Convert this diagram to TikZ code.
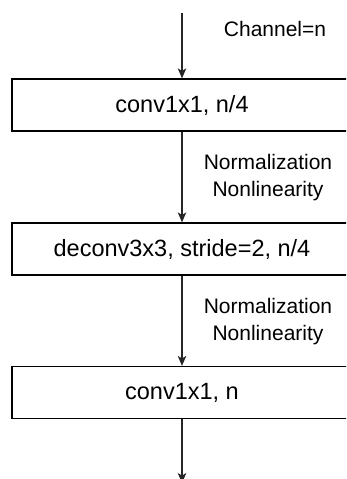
\documentclass[tikz,border=0pt]{standalone}
\usepackage{fontspec}
\setmainfont{Liberation Sans}
\usetikzlibrary{arrows.meta}
\begin{document}
\begin{tikzpicture}[x=1pt,y=-1pt,
  blk/.style={draw=black,line width=1.2pt,minimum width=340pt,minimum height=52pt,inner sep=0pt,font=\fontsize{23.5}{28}\selectfont},
  lbl/.style={align=center,font=\fontsize{21}{27}\selectfont,inner sep=0pt},
  flow/.style={draw=black!85,line width=1.2pt,-{Stealth[length=10pt,width=8.5pt,inset=2.5pt]}}]
\useasboundingbox (0,0) rectangle (346,479);
\clip (0,0) rectangle (346,479);
\node[blk] (b1) at (182,105) {conv1x1, n/4};
\node[blk] (b2) at (182,249) {deconv3x3, stride=2, n/4};
\node[blk] (b3) at (182,392.5) {conv1x1, n};
\coordinate (top) at (182,13);
\coordinate (bot) at (182,483);
\draw[flow] (top) -- (b1.north);
\draw[flow] (b1.south) -- (b2.north);
\draw[flow] (b2.south) -- (b3.north);
\draw[flow] (b3.south) -- (bot);
\node[lbl] (c) at (275,29) {Channel=n};
\node[lbl] (n1) at (268,178) {Normalization\\Nonlinearity};
\node[lbl] (n2) at (268,322) {Normalization\\Nonlinearity};
\end{tikzpicture}
\end{document}
